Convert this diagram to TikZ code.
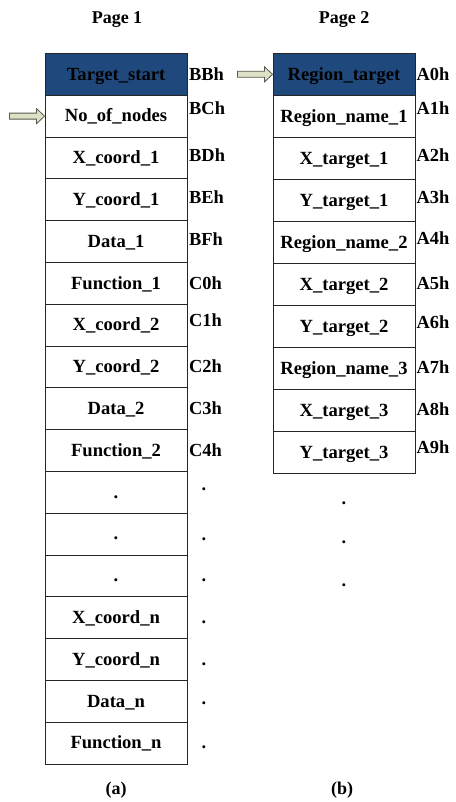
\documentclass[tikz,border=0pt]{standalone}
\usepackage{fontspec}
\setmainfont{Liberation Serif}
\usetikzlibrary{calc}
\definecolor{hdrblue}{HTML}{1F497D}
\definecolor{arrowfill}{HTML}{DDE2C6}
\definecolor{arrowline}{HTML}{55584A}
\newcommand\blockarrow[1]{\filldraw[arrowst] (#1) -- ++(-8,-7.5) -- ++(0,4.5) -- ++(-27,0) -- ++(0,6) -- ++(27,0) -- ++(0,4.5) -- cycle;}
\begin{document}
\begin{tikzpicture}[x=1pt,y=-1pt,
  cell/.style={draw=black!85, line width=0.9pt, minimum width=142pt, minimum height=41.8pt,
    inner sep=0pt, text height=14.5pt, text depth=3pt, anchor=north,
    font=\fontsize{18.6}{21}\selectfont\bfseries},
  hdr/.style={cell, fill=hdrblue},
  addr/.style={anchor=west, inner sep=0pt, font=\fontsize{18.4}{21}\selectfont\bfseries},
  dotlbl/.style={inner sep=0pt, font=\fontsize{18.4}{21}\selectfont\bfseries},
  title/.style={inner sep=0pt, font=\fontsize{18}{21}\selectfont\bfseries},
  arrowst/.style={fill=arrowfill, draw=arrowline, line width=0.8pt, line join=miter}]
\useasboundingbox (0,0) rectangle (455,802);

% titles
\node[title] (t1) at (117,20) {Page 1};
\node[title] (t2) at (344,20) {Page 2};

% left column
\node[hdr] (L0) at (116,53) {Target\_start};
\foreach \t [count=\i] in {No\_of\_nodes, X\_coord\_1, Y\_coord\_1, Data\_1, Function\_1,
  X\_coord\_2, Y\_coord\_2, Data\_2, Function\_2, ., ., ., X\_coord\_n, Y\_coord\_n, Data\_n, Function\_n}{
  \pgfmathsetmacro\yy{53+\i*41.8}
  \node[cell] (L\i) at (116,\yy) {\t};
}

% right column
\node[hdr] (R0) at (344,53) {Region\_target};
\foreach \t [count=\i] in {Region\_name\_1, X\_target\_1, Y\_target\_1, Region\_name\_2, X\_target\_2,
  Y\_target\_2, Region\_name\_3, X\_target\_3, Y\_target\_3}{
  \pgfmathsetmacro\yy{53+\i*42}
  \node[cell, minimum height=42pt] (R\i) at (344,\yy) {\t};
}

% addresses left
\foreach \a/\y [count=\i] in {BBh/74.5, BCh/108.5, BDh/155.5, BEh/197.5, BFh/239.5,
  C0h/283, C1h/320, C2h/366.5, C3h/408, C4h/450}{
  \node[addr] (la\i) at (189,\y) {\a};
}
\foreach \y [count=\i] in {489, 539, 580, 622, 664, 703, 747}{
  \node[dotlbl] (ld\i) at (204,\y) {.};
}

% addresses right
\foreach \a/\y [count=\i] in {A0h/74.5, A1h/108.5, A2h/155.5, A3h/197.5, A4h/238.5,
  A5h/283, A6h/322, A7h/367, A8h/409, A9h/447}{
  \node[addr] (ra\i) at (416.5,\y) {\a};
}
\foreach \y [count=\i] in {503, 542, 585}{
  \node[dotlbl] (rd\i) at (344,\y) {.};
}

% pointer arrows
\blockarrow{L1.west}
\blockarrow{R0.west}

% captions
\node[title] (ca) at (116,790) {(a)};
\node[title] (cb) at (342,790) {(b)};
\end{tikzpicture}
\end{document}
